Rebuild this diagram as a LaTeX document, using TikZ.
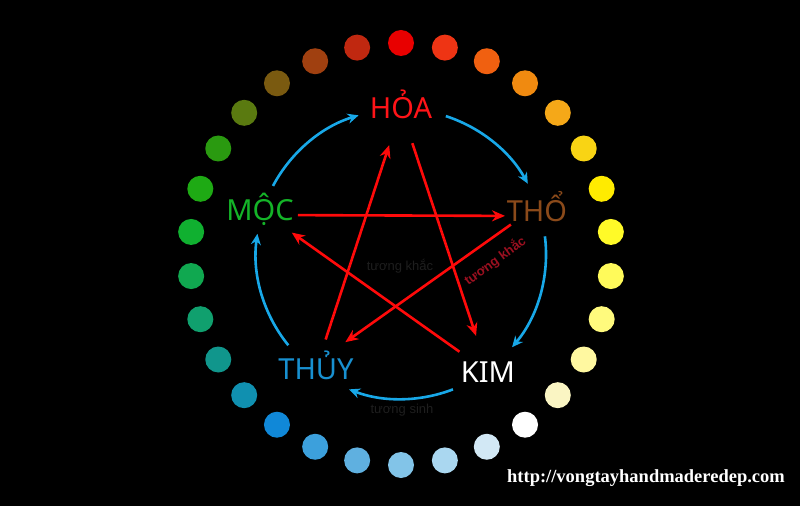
\documentclass[tikz,border=0pt]{standalone}
\usepackage{fontspec}
\setmainfont{Noto Sans}
\newfontfamily\urlfont{Liberation Serif}
\newfontfamily\arialfont{Liberation Sans}
\usepackage{tikz}
\usetikzlibrary{arrows.meta}
\usetikzlibrary{calc}

\definecolor{hoacol}{RGB}{255,20,24}
\definecolor{moccol}{RGB}{20,180,40}
\definecolor{thocol}{RGB}{139,74,26}
\definecolor{thuycol}{RGB}{24,144,208}
\definecolor{sinhcol}{RGB}{24,168,232}
\definecolor{khaccol}{RGB}{255,10,10}
\definecolor{ghichu}{RGB}{154,16,32}
\definecolor{chumo}{RGB}{30,30,30}
% vong hat mau
\definecolor{d0}{RGB}{232,0,0}
\definecolor{d1}{RGB}{238,52,20}
\definecolor{d2}{RGB}{240,96,16}
\definecolor{d3}{RGB}{240,138,16}
\definecolor{d4}{RGB}{245,168,24}
\definecolor{d5}{RGB}{249,212,20}
\definecolor{d6}{RGB}{255,235,0}
\definecolor{d7}{RGB}{255,250,40}
\definecolor{d8}{RGB}{255,250,90}
\definecolor{d9}{RGB}{255,250,125}
\definecolor{d10}{RGB}{255,248,160}
\definecolor{d11}{RGB}{250,245,195}
\definecolor{d12}{RGB}{255,255,255}
\definecolor{d13}{RGB}{210,232,245}
\definecolor{d14}{RGB}{170,215,240}
\definecolor{d15}{RGB}{130,196,232}
\definecolor{d16}{RGB}{95,176,224}
\definecolor{d17}{RGB}{60,160,220}
\definecolor{d18}{RGB}{16,136,216}
\definecolor{d19}{RGB}{16,144,176}
\definecolor{d20}{RGB}{16,150,140}
\definecolor{d21}{RGB}{16,160,110}
\definecolor{d22}{RGB}{16,168,80}
\definecolor{d23}{RGB}{16,176,48}
\definecolor{d24}{RGB}{30,170,20}
\definecolor{d25}{RGB}{42,154,16}
\definecolor{d26}{RGB}{90,122,16}
\definecolor{d27}{RGB}{122,90,16}
\definecolor{d28}{RGB}{160,64,16}
\definecolor{d29}{RGB}{192,40,16}

\begin{document}
\begin{tikzpicture}[x=1pt,y=1pt,
		hanh/.style={font=\fontsize{29}{29}\selectfont, text height=20pt, text depth=0pt, inner sep=0pt},
		sinh/.style={draw=sinhcol, line width=2.6pt, -{Stealth[length=11pt,width=10pt]}},
		khac/.style={draw=khaccol, line width=2.6pt, -{Stealth[length=13pt,width=11pt]}}]
		\fill[black] (-401,-252) rectangle (399,254);
		\useasboundingbox (-401,-252) rectangle (399,254);
		\coordinate (c) at (0,0);
		\foreach \i in {0,...,29}
			\fill[d\i] ({90-12*\i}:211) circle (13);
		%nam hanh
		\node[hanh, text=hoacol] (hoa) at (0,145) {\bfseries HỎA};
		\node[hanh, text=thocol] (tho) at (136,42) {THỔ};
		\node[hanh, text=white] (kim) at (87,-118) {KIM};
		\node[hanh, text=thuycol] (thuy) at (-85,-115) {THỦY};
		\node[hanh, text=moccol] (moc) at (-141,44) {MỘC};
		%tuong sinh
		\draw[sinh] ($(c)+(152:145)$) arc[start angle=152, end angle=107, radius=145];
		\draw[sinh] ($(c)+(72:145)$) arc[start angle=72, end angle=29, radius=145];
		\draw[sinh] ($(c)+(7:145)$) arc[start angle=7, end angle=-40, radius=145];
		\draw[sinh] ($(c)+(-69:145)$) arc[start angle=-69, end angle=-111, radius=145];
		\draw[sinh] ($(c)+(219:145)$) arc[start angle=219, end angle=172, radius=145];
		%tuong khac
		\draw[khac, shorten <=38pt, shorten >=32pt] ([yshift=-5pt]moc.center) -- ([yshift=-4pt]tho.center);
		\draw[khac, shorten <=32pt, shorten >=36pt] ([yshift=6pt]tho.center) -- ([yshift=6pt]thuy.center);
		\draw[khac, shorten <=31pt, shorten >=38pt] (thuy.center) -- (hoa.center);
		\draw[khac, shorten <=36pt, shorten >=38pt] (hoa.center) -- (kim.center);
		\draw[khac, shorten <=35pt, shorten >=39pt] (kim.center) -- (moc.center);
		\node[rotate=36, text=ghichu, font=\arialfont\bfseries\fontsize{13}{13}\selectfont] (ghi) at (94,-7) {tương khắc};
		\node[text=chumo, font=\arialfont\fontsize{13}{13}\selectfont] (khacmo) at (-1,-12) {tương khắc};
		\node[text=chumo, font=\arialfont\fontsize{13}{13}\selectfont] (sinhmo) at (1,-156) {tương sinh};
		\node[text=white, font=\urlfont\bfseries\fontsize{18.5}{18.5}\selectfont] (url) at (245,-224) {http://vongtayhandmaderedep.com};
		\end{tikzpicture}
\end{document}
